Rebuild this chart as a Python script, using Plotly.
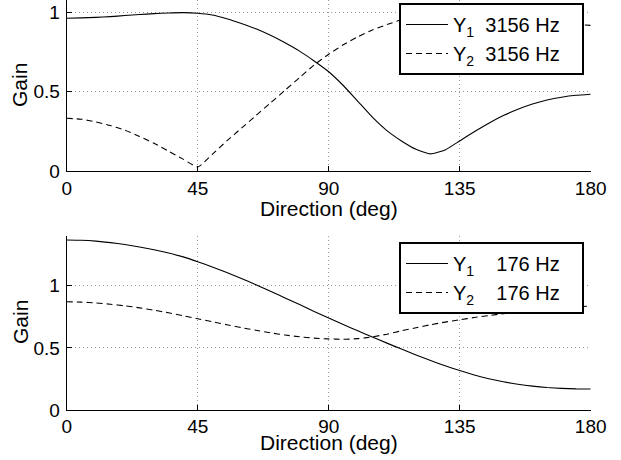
import plotly.graph_objects as go

# ---------------- data ----------------
direction = [0, 5, 10, 15, 20, 25, 30, 35, 40, 45, 50, 55, 60, 65, 70, 75, 80, 85, 90,
             95, 100, 105, 110, 115, 120, 125, 130, 135, 140, 145, 150, 155, 160, 165, 170, 175, 180]

y1_3156 = [0.965, 0.967, 0.970, 0.975, 0.982, 0.988, 0.994, 0.998, 1.000, 0.996, 0.985, 0.962,
           0.932, 0.898, 0.857, 0.810, 0.757, 0.695, 0.627, 0.540, 0.440, 0.340, 0.255, 0.190,
           0.137, 0.108, 0.133, 0.190, 0.248, 0.302, 0.350, 0.390, 0.423, 0.448, 0.466, 0.478, 0.485]

y2_3156 = [0.333, 0.327, 0.310, 0.287, 0.258, 0.218, 0.175, 0.125, 0.075, 0.025, 0.105, 0.190,
           0.270, 0.350, 0.430, 0.510, 0.590, 0.670, 0.737, 0.797, 0.848, 0.890, 0.925, 0.955,
           0.978, 0.993, 1.000, 0.998, 0.990, 0.980, 0.970, 0.960, 0.950, 0.940, 0.931, 0.925, 0.920]

y1_176 = [1.368, 1.366, 1.359, 1.347, 1.331, 1.312, 1.290, 1.263, 1.232, 1.193, 1.151, 1.106,
          1.058, 1.008, 0.955, 0.902, 0.848, 0.793, 0.740, 0.688, 0.637, 0.587, 0.538, 0.490,
          0.443, 0.398, 0.356, 0.317, 0.282, 0.252, 0.227, 0.207, 0.192, 0.181, 0.174, 0.170, 0.169]

y2_176 = [0.871, 0.868, 0.861, 0.851, 0.838, 0.822, 0.803, 0.782, 0.759, 0.734, 0.710, 0.686,
          0.663, 0.641, 0.621, 0.603, 0.589, 0.578, 0.572, 0.569, 0.574, 0.588, 0.610, 0.637,
          0.662, 0.686, 0.707, 0.726, 0.744, 0.760, 0.775, 0.789, 0.801, 0.812, 0.822, 0.830, 0.837]

x_ticks = [0, 45, 90, 135, 180]
x_ticklabels = ["0", "45", "90", "135", "180"]
y_ticks = [0, 0.5, 1]
y_ticklabels = ["0", "0.5", "1"]

NB = "\u00a0"
name_y1_top = "Y<sub>1</sub>" + NB * 2 + "3156 Hz" + NB * 3
name_y2_top = "Y<sub>2</sub>" + NB * 2 + "3156 Hz" + NB * 3
name_y1_bot = "Y<sub>1</sub>" + NB * 4 + "176 Hz" + NB * 3
name_y2_bot = "Y<sub>2</sub>" + NB * 4 + "176 Hz" + NB * 3

# ---------------- figure ----------------
W, H = 621, 460
FONT = "Liberation Sans, Arial, Helvetica, sans-serif"

fig = go.Figure()
solid = dict(color="black", width=1.1, shape="spline", smoothing=0.5)
dashed = dict(color="black", width=1.1, dash="6px,4px", shape="spline", smoothing=0.5)

fig.add_trace(go.Scatter(x=direction, y=y1_3156, mode="lines", line=solid, name=name_y1_top,
                         xaxis="x", yaxis="y", legend="legend"))
fig.add_trace(go.Scatter(x=direction, y=y2_3156, mode="lines", line=dashed, name=name_y2_top,
                         xaxis="x", yaxis="y", legend="legend"))
fig.add_trace(go.Scatter(x=direction, y=y1_176, mode="lines", line=solid, name=name_y1_bot,
                         xaxis="x2", yaxis="y2", legend="legend2"))
fig.add_trace(go.Scatter(x=direction, y=y2_176, mode="lines", line=dashed, name=name_y2_bot,
                         xaxis="x2", yaxis="y2", legend="legend2"))

x0, x1 = 66.7 / W, 590.7 / W
top_dom = [1 - 171 / H, 1.0]
bot_dom = [1 - 410 / H, 1 - 236 / H]

GRID = dict(showgrid=True, gridcolor="#9a9a9a", gridwidth=1, griddash="1px,3px")
common_x = dict(range=[0, 180], tickvals=x_ticks, ticktext=x_ticklabels, ticks="inside",
                ticklen=5, tickcolor="black", showline=True, linecolor="black", linewidth=1,
                zeroline=False, tickfont=dict(family=FONT, size=19, color="black"),
                automargin=False, domain=[x0, x1], fixedrange=True, **GRID)
common_y = dict(tickvals=y_ticks, ticktext=y_ticklabels, ticks="inside",
                ticklen=5, tickcolor="black", showline=True, linecolor="black", linewidth=1,
                zeroline=False, tickfont=dict(family=FONT, size=19, color="black"),
                automargin=False, fixedrange=True, ticklabelstandoff=2, **GRID)

legend_common = dict(xanchor="right", yanchor="top", bgcolor="white", bordercolor="black",
                     borderwidth=2, font=dict(family=FONT, size=20, color="black"),
                     tracegroupgap=0, itemwidth=42)

fig.update_layout(
    width=W, height=H,
    margin=dict(l=0, r=0, t=0, b=0),
    paper_bgcolor="white", plot_bgcolor="white",
    font=dict(family=FONT, size=19, color="black"),
    xaxis=dict(**common_x, anchor="y"),
    yaxis=dict(**common_y, range=[0, 1.08], domain=top_dom, anchor="x"),
    xaxis2=dict(**common_x, anchor="y2", ticklabelstandoff=-1),
    yaxis2=dict(**common_y, range=[0, 1.4], domain=bot_dom, anchor="x2"),
    legend=dict(x=584 / W, y=1 - 3 / H, **legend_common),
    legend2=dict(x=584 / W, y=1 - 242 / H, **legend_common),
    showlegend=True,
)

# axis titles
for yy in (208, 442):
    fig.add_annotation(text="Direction (deg)", xref="paper", yref="paper",
                       x=(x0 + x1) / 2, y=1 - yy / H, showarrow=False,
                       font=dict(family=FONT, size=21, color="black"),
                       xanchor="center", yanchor="middle")
for yy in (85, 322):
    fig.add_annotation(text="Gain", xref="paper", yref="paper", textangle=-90,
                       x=20 / W, y=1 - yy / H, showarrow=False,
                       font=dict(family=FONT, size=21, color="black"),
                       xanchor="center", yanchor="middle")

fig.write_html("out.html", config={"displayModeBar": False},
               post_script="document.body.style.margin='0';document.body.style.padding='0';")
